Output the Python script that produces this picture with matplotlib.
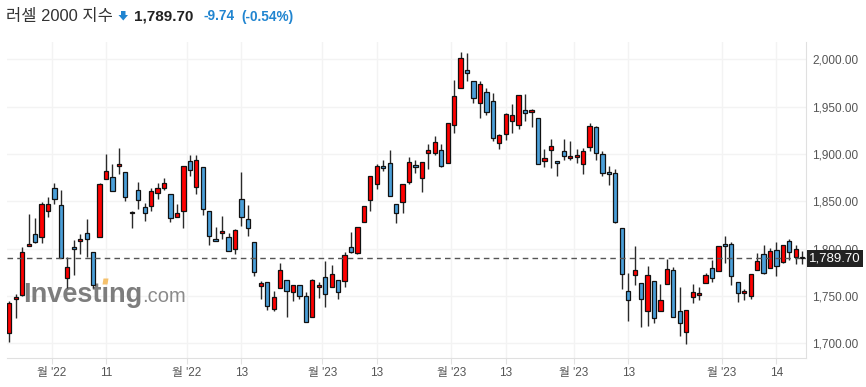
import matplotlib
matplotlib.use('Agg')
from matplotlib import pyplot as plt
from matplotlib.patches import Polygon
import numpy as np
import pandas as pd

plt.rcParams['font.family'] = ['Liberation Sans', 'Noto Sans CJK KR', 'DejaVu Sans']

# daily candles, Russell 2000 (Oct 21 2022 - Apr 20 2023)
holidays = ['2022-11-24', '2022-12-26', '2023-01-02', '2023-01-16',
            '2023-02-20', '2023-04-07']
dates = pd.bdate_range('2022-10-21', '2023-04-20', freq='C', holidays=holidays)

opens = [1710.6, 1746.5, 1750.7, 1802.5, 1815.8, 1812.0, 1840.1, 1864.4, 1845.8, 1768.7,
         1801.8, 1807.7, 1816.2, 1796.1, 1812.0, 1873.6, 1875.7, 1887.0, 1880.6, 1837.3,
         1861.6, 1843.7, 1844.7, 1858.5, 1863.7, 1857.4, 1833.1, 1839.4, 1892.3, 1864.8,
         1885.9, 1839.4, 1809.9, 1816.2, 1812.0, 1799.3, 1852.1, 1831.0, 1806.7, 1760.2,
         1764.4, 1735.9, 1758.1, 1766.5, 1753.9, 1761.3, 1749.6, 1727.5, 1759.2, 1769.7,
         1759.2, 1766.5, 1765.5, 1801.4, 1795.1, 1827.8, 1851.1, 1868.0, 1887.0, 1890.1,
         1846.8, 1848.9, 1870.1, 1888.0, 1874.3, 1900.7, 1900.7, 1903.9, 1890.1, 1930.3,
         1969.2, 1989.2, 1976.8, 1953.5, 1965.5, 1955.6, 1911.3, 1920.8, 1935.2, 1930.3,
         1946.1, 1944.7, 1937.7, 1892.3, 1903.9, 1892.3, 1902.8, 1895.4, 1896.5, 1889.1,
         1907.0, 1928.2, 1899.6, 1880.6, 1879.6, 1821.5, 1754.9, 1771.8, 1763.4, 1733.8,
         1765.5, 1733.8, 1762.3, 1777.1, 1733.8, 1711.6, 1748.6, 1750.7, 1763.4, 1779.2,
         1776.1, 1804.6, 1804.6, 1764.4, 1752.8, 1749.6, 1777.1, 1794.0, 1779.2, 1798.2,
         1785.6, 1807.7, 1790.8, 1790.8]
highs = [1745.1, 1751.8, 1801.8, 1836.3, 1832.0, 1849.0, 1854.6, 1869.0, 1861.6, 1791.5,
         1809.5, 1815.1, 1831.0, 1796.8, 1869.0, 1900.5, 1889.4, 1906.0, 1880.6, 1840.1,
         1870.4, 1847.9, 1863.7, 1869.0, 1874.3, 1857.4, 1846.8, 1887.0, 1898.6, 1898.6,
         1885.9, 1839.4, 1822.5, 1834.2, 1816.2, 1820.4, 1880.6, 1845.8, 1806.7, 1765.5,
         1764.4, 1754.9, 1784.5, 1766.5, 1761.3, 1761.3, 1753.9, 1767.6, 1764.4, 1786.6,
         1782.4, 1766.5, 1796.1, 1817.3, 1822.5, 1844.7, 1876.4, 1889.1, 1893.3, 1903.9,
         1846.8, 1868.0, 1896.5, 1893.3, 1891.2, 1910.2, 1918.7, 1910.2, 1932.4, 1977.8,
         2007.4, 2006.3, 1976.8, 1976.8, 1969.7, 1964.0, 1920.8, 1943.0, 1952.5, 1962.0,
         1963.0, 1947.9, 1937.7, 1904.9, 1915.5, 1892.3, 1915.5, 1913.4, 1904.9, 1906.0,
         1932.4, 1929.2, 1902.8, 1887.0, 1883.8, 1821.5, 1773.9, 1802.5, 1763.4, 1781.3,
         1765.5, 1762.3, 1788.7, 1780.3, 1759.2, 1734.9, 1762.3, 1759.2, 1773.9, 1787.7,
         1802.5, 1813.0, 1806.7, 1764.4, 1757.0, 1772.9, 1795.1, 1803.5, 1800.4, 1806.7,
         1803.5, 1809.9, 1803.5, 1797.2]
lows = [1701.0, 1727.1, 1750.0, 1802.5, 1805.6, 1805.6, 1833.8, 1846.8, 1789.8, 1758.1,
        1772.2, 1794.4, 1791.5, 1758.1, 1812.0, 1873.6, 1860.9, 1878.5, 1850.7, 1821.5,
        1841.5, 1829.6, 1840.1, 1852.5, 1861.6, 1827.8, 1833.1, 1822.2, 1877.1, 1857.4,
        1835.2, 1803.5, 1807.7, 1809.9, 1797.2, 1794.0, 1823.6, 1813.0, 1771.1, 1746.5,
        1734.9, 1733.8, 1758.1, 1727.5, 1744.4, 1746.5, 1722.2, 1727.5, 1747.5, 1738.0,
        1759.2, 1746.5, 1759.2, 1795.0, 1794.0, 1827.8, 1839.4, 1862.7, 1881.7, 1855.3,
        1826.8, 1837.3, 1868.0, 1879.6, 1859.5, 1883.8, 1898.6, 1885.9, 1890.1, 1922.5,
        1969.2, 1976.8, 1953.5, 1937.7, 1941.0, 1913.4, 1904.9, 1914.4, 1921.8, 1926.1,
        1935.2, 1928.9, 1889.1, 1885.9, 1884.9, 1876.4, 1893.3, 1893.3, 1890.1, 1878.5,
        1902.8, 1893.3, 1876.4, 1866.9, 1826.8, 1757.0, 1723.2, 1761.3, 1716.9, 1718.0,
        1721.1, 1733.8, 1762.3, 1727.5, 1707.4, 1699.3, 1742.3, 1745.4, 1763.4, 1764.4,
        1776.1, 1784.5, 1761.3, 1743.3, 1745.4, 1746.5, 1777.1, 1772.9, 1779.2, 1770.8,
        1784.5, 1787.7, 1783.5, 1783.5]
closes = [1742.3, 1748.6, 1796.1, 1804.6, 1806.7, 1846.8, 1846.8, 1852.1, 1789.8, 1780.3,
          1799.3, 1810.2, 1809.9, 1761.6, 1868.0, 1882.0, 1860.9, 1889.4, 1854.2, 1839.1,
          1851.1, 1837.3, 1860.6, 1863.7, 1869.0, 1832.4, 1837.3, 1887.0, 1882.7, 1893.3,
          1841.5, 1813.0, 1807.7, 1818.3, 1797.2, 1819.4, 1833.1, 1821.5, 1775.4, 1763.4,
          1739.1, 1748.6, 1777.1, 1754.9, 1761.3, 1749.6, 1722.2, 1766.5, 1761.3, 1751.8,
          1772.9, 1753.9, 1793.0, 1796.1, 1822.5, 1844.7, 1876.4, 1887.0, 1884.9, 1855.3,
          1837.3, 1868.0, 1891.2, 1886.0, 1891.2, 1903.9, 1912.3, 1887.0, 1932.4, 1961.0,
          2001.9, 1986.0, 1958.8, 1973.6, 1944.0, 1916.5, 1919.7, 1941.9, 1941.5, 1962.0,
          1943.0, 1946.8, 1889.1, 1895.4, 1908.1, 1890.1, 1897.5, 1897.5, 1898.6, 1902.8,
          1929.2, 1900.7, 1879.6, 1878.5, 1827.8, 1772.9, 1745.4, 1777.1, 1746.5, 1771.8,
          1726.4, 1745.4, 1778.2, 1727.5, 1721.1, 1734.9, 1753.9, 1752.8, 1771.8, 1768.7,
          1802.5, 1802.5, 1770.8, 1752.8, 1754.9, 1772.9, 1786.6, 1773.9, 1797.2, 1781.3,
          1803.5, 1796.1, 1799.44, 1789.70]

tick_dates = ['2022-11-01', '2022-11-11', '2022-12-01', '2022-12-13', '2023-01-03',
              '2023-01-13', '2023-02-01', '2023-02-13', '2023-03-01', '2023-03-13',
              '2023-04-03', '2023-04-14']
tick_labels = ["월 '22", "11", "월 '22", "13", "월 '23", "13", "월 '23", "13",
               "월 '23", "13", "월 '23", "14"]

title = '러셀 2000 지수'
last_price = 1789.70
change = -9.74
change_pct = -0.54

UP = '#ff0000'
DOWN = '#4b9fd9'
W, H = 866, 387


def px(x, y):
    return x / W, 1 - y / H


fig = plt.figure(figsize=(W / 100, H / 100), dpi=100)
ax = fig.add_axes([7 / W, 1 - 357.7 / H, 799 / W, 316 / H])

o = np.array(opens)
c = np.array(closes)
x = np.arange(len(dates))
up = c >= o
bottom = np.minimum(o, c)
height = np.maximum(np.abs(c - o), 1.6)
colors = np.where(up, UP, DOWN)

ax.vlines(x, lows, highs, color='#2a2a2a', lw=1, zorder=3)
ax.bar(x, height, bottom=bottom, width=0.66, color=colors,
       edgecolor='#111111', linewidth=0.9, zorder=4)

ax.axhline(last_price, color='#555555', lw=1, dashes=(4, 3), zorder=5)

ax.set_xlim(-0.36, len(dates) - 0.42)
ax.set_ylim(1684.8, 2018.6)

# x ticks: month ticks sit between sessions
tick_pos = [dates.get_loc(pd.Timestamp(d)) - (0.45 if '월' in lab else 0.0)
            for d, lab in zip(tick_dates, tick_labels)]
ax.set_xticks(tick_pos)
ax.set_xticklabels(tick_labels)
ax.tick_params(axis='x', length=4, color='#e2e2e2', pad=3, labelsize=8.5,
               labelcolor='#555555')

yt = np.arange(1700, 2001, 50)
ax.yaxis.tick_right()
ax.set_yticks(yt)
ax.set_yticklabels([f'{v:,.2f}' for v in yt])
ax.tick_params(axis='y', length=0, pad=4.3, labelsize=8.5, labelcolor='#555555')

ax.grid(True, color='#f3f3f3', lw=1, zorder=0)
ax.set_axisbelow(True)
for s in ['left', 'top']:
    ax.spines[s].set_visible(False)
for s in ['right', 'bottom']:
    ax.spines[s].set_color('#e0e0e0')

# last price tag
ax.text(1.0 + 3 / 799, last_price, f'{last_price:,.2f}',
        transform=ax.get_yaxis_transform(), ha='left', va='center',
        color='white', fontsize=9.5, clip_on=False, zorder=10,
        bbox=dict(boxstyle='square,pad=0.18', fc='#222222', ec='none'))

# watermark
ax.text((22.7 - 7) / 799, (357.7 - 302.3) / 316, 'Investıng', transform=ax.transAxes,
        fontsize=19.5, fontweight='bold', color='#7d7d7d', va='baseline',
        ha='left', zorder=1)
ax.text((142 - 7) / 799, (357.7 - 302.3) / 316, '.com', transform=ax.transAxes,
        fontsize=14.5, color='#8a8a8a', va='baseline', ha='left', zorder=1)
ax.add_patch(Polygon([((102.5 - 7) / 799, (357.7 - 284.5) / 316),
                      ((107.5 - 7) / 799, (357.7 - 284.5) / 316),
                      ((108.5 - 7) / 799, (357.7 - 278.5) / 316),
                      ((103.5 - 7) / 799, (357.7 - 278.5) / 316)],
                     closed=True, transform=ax.transAxes, fc='#f5c16c', ec='none',
                     zorder=1))

# header
fig.text(*px(6, 16.5), title, fontsize=11.9, color='#333333', va='center', ha='left')
fig.add_artist(Polygon([px(121, 11), px(125.5, 11), px(125.5, 15), px(128, 15),
                        px(123.25, 20.5), px(118.5, 15), px(121, 15)],
                       closed=True, transform=fig.transFigure, fc='#2185d0', ec='none'))
fig.text(*px(134, 16.5), f'{last_price:,.2f}', fontsize=11, fontweight='bold',
         color='#222222', va='center', ha='left')
fig.text(*px(203, 16.5), f'{change:.2f}', fontsize=9.8, fontweight='bold',
         color='#2185d0', va='center', ha='left')
fig.text(*px(241, 16.5), f'({change_pct:.2f}%)', fontsize=9.8, fontweight='bold',
         color='#2185d0', va='center', ha='left')

fig.savefig('out.png', dpi=100)
